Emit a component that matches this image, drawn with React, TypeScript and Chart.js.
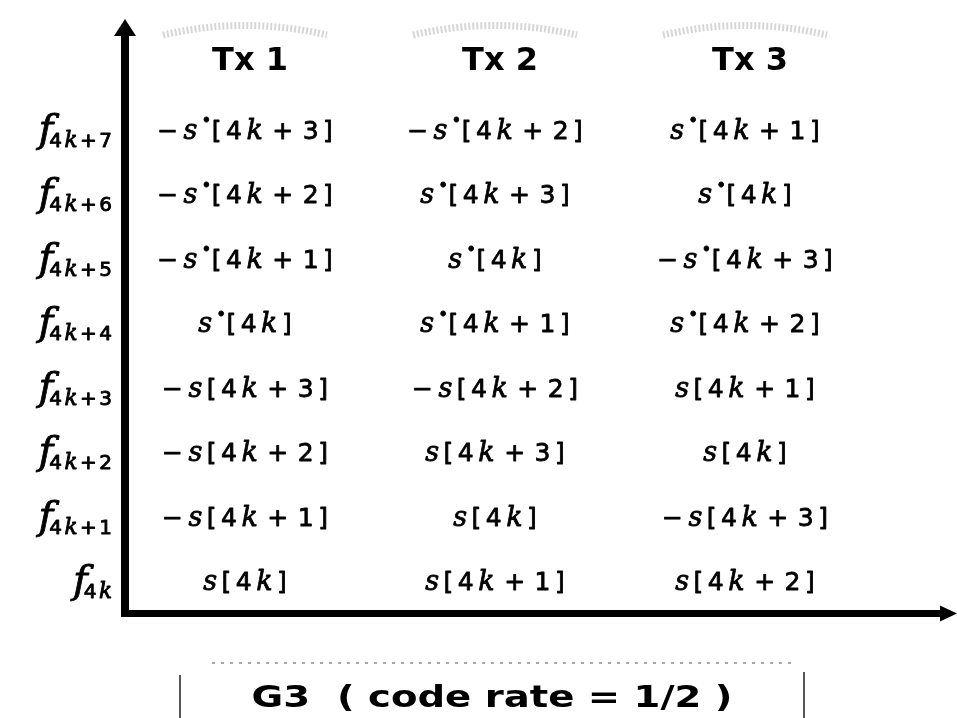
import React, { useEffect, useRef } from "react";
import { Chart, registerables } from "chart.js";

Chart.register(...registerables);

// ---- data ----
const txLabels = ["Tx 1", "Tx 2", "Tx 3"];
// frequency rows, bottom (f_4k) to top (f_4k+7)
const freqSubscripts = ["4k", "4k+1", "4k+2", "4k+3", "4k+4", "4k+5", "4k+6", "4k+7"];
const tx1Cells = ["s[4k]", "-s[4k + 1]", "-s[4k + 2]", "-s[4k + 3]", "s*[4k]", "-s*[4k + 1]", "-s*[4k + 2]", "-s*[4k + 3]"];
const tx2Cells = ["s[4k + 1]", "s[4k]", "s[4k + 3]", "-s[4k + 2]", "s*[4k + 1]", "s*[4k]", "s*[4k + 3]", "-s*[4k + 2]"];
const tx3Cells = ["s[4k + 2]", "-s[4k + 3]", "s[4k]", "s[4k + 1]", "s*[4k + 2]", "-s*[4k + 3]", "s*[4k]", "s*[4k + 1]"];
const cellColumns = [tx1Cells, tx2Cells, tx3Cells];
const captionText = "G3  ( code rate = 1/2 )";

type Run = { ch: string; font: string; dy: number; gap: number };

function mathRuns(s: string, size: number, gap: number): Run[] {
  const roman = `${size}px "DejaVu Sans"`;
  const ital = `italic ${size * 1.08}px "DejaVu Serif"`;
  const runs: Run[] = [];
  for (const ch of s) {
    if (ch === "-") runs.push({ ch: "\u2212", font: roman, dy: 0, gap: gap + 1 });
    else if (ch === "s" || ch === "k") runs.push({ ch, font: ital, dy: 0, gap });
    else if (ch === "*") runs.push({ ch: "\u2022", font: `bold ${size * 0.55}px "DejaVu Sans"`, dy: -size * 0.55, gap: 1 });
    else if (ch === " ") runs.push({ ch: "", font: roman, dy: 0, gap: size * 0.2 });
    else runs.push({ ch, font: roman, dy: 0, gap });
  }
  return runs;
}

function runsWidth(ctx: CanvasRenderingContext2D, runs: Run[]): number {
  let w = 0;
  runs.forEach((r, i) => {
    ctx.font = r.font;
    w += ctx.measureText(r.ch).width + (i < runs.length - 1 ? r.gap : 0);
  });
  return w;
}

function drawRuns(ctx: CanvasRenderingContext2D, runs: Run[], x: number, baseline: number, weight: number) {
  let cx = x;
  ctx.lineWidth = weight;
  ctx.lineJoin = "round";
  runs.forEach((r) => {
    ctx.font = r.font;
    ctx.fillText(r.ch, cx, baseline + r.dy);
    if (weight > 0 && r.ch) ctx.strokeText(r.ch, cx, baseline + r.dy);
    cx += ctx.measureText(r.ch).width + r.gap;
  });
}

const diagramPlugin = {
  id: "diagram",
  afterDatasetsDraw(chart: any) {
    const ctx: CanvasRenderingContext2D = chart.ctx;
    const area = chart.chartArea;
    const xs = chart.scales.x;
    const ys = chart.scales.y;
    ctx.save();
    ctx.fillStyle = "#000";
    ctx.strokeStyle = "#000";
    ctx.textBaseline = "alphabetic";
    ctx.textAlign = "left";

    // cell texts
    chart.data.datasets.forEach((ds: any, di: number) => {
      const meta = chart.getDatasetMeta(di);
      meta.data.forEach((el: any, i: number) => {
        const label = ds.cellText[i];
        const runs = mathRuns(label, 25, 4.5);
        const w = runsWidth(ctx, runs);
        drawRuns(ctx, runs, el.x - w / 2, el.y + 9, 0.8);
      });
    });

    // column headers with faint smudge above
    txLabels.forEach((t, i) => {
      const cx = xs.getPixelForValue(i + 1);
      ctx.save();
      ctx.strokeStyle = "rgba(120,120,120,0.3)";
      ctx.lineWidth = 7;
      ctx.setLineDash([2, 2]);
      ctx.beginPath();
      ctx.moveTo(cx - 82, area.top + 5);
      ctx.quadraticCurveTo(cx, area.top - 14, cx + 82, area.top + 5);
      ctx.stroke();
      ctx.restore();
      ctx.font = `bold 32px "DejaVu Sans"`;
      ctx.textAlign = "center";
      ctx.fillText(t, cx + 5, area.top + 40);
      ctx.textAlign = "left";
    });

    // row labels f_{...}
    freqSubscripts.forEach((sub, r) => {
      const py = ys.getPixelForValue(r);
      const subRuns = mathRuns(sub, 20, 2.5);
      const sw = runsWidth(ctx, subRuns);
      const right = area.left - 16;
      const sx = right - sw;
      drawRuns(ctx, subRuns, sx, py + 17, 0.9);
      ctx.font = `italic 40px "DejaVu Serif"`;
      const fw = ctx.measureText("f").width;
      ctx.lineWidth = 0.8;
      ctx.fillText("f", sx - fw + 4, py + 12);
      ctx.strokeText("f", sx - fw + 4, py + 12);
    });

    // axes with arrows
    const axX = area.left - 3;
    const axY = area.bottom + 1.5;
    ctx.lineWidth = 8;
    ctx.lineCap = "butt";
    ctx.beginPath();
    ctx.moveTo(axX, axY + 3);
    ctx.lineTo(axX, area.top + 6);
    ctx.stroke();
    ctx.beginPath();
    ctx.moveTo(axX, area.top - 11);
    ctx.lineTo(axX - 11, area.top + 6);
    ctx.lineTo(axX + 11, area.top + 6);
    ctx.closePath();
    ctx.fill();

    ctx.lineWidth = 7;
    ctx.beginPath();
    ctx.moveTo(axX - 4, axY);
    ctx.lineTo(area.right - 8, axY);
    ctx.stroke();
    ctx.beginPath();
    ctx.moveTo(area.right + 7, axY);
    ctx.lineTo(area.right - 10, axY - 8);
    ctx.lineTo(area.right - 10, axY + 8);
    ctx.closePath();
    ctx.fill();

    // caption box
    const capY = area.bottom + 84;
    ctx.save();
    ctx.strokeStyle = "rgba(90,90,90,0.7)";
    ctx.lineWidth = 1.5;
    ctx.setLineDash([3, 6]);
    ctx.beginPath();
    ctx.moveTo(212, area.bottom + 51);
    ctx.lineTo(792, area.bottom + 51);
    ctx.stroke();
    ctx.setLineDash([]);
    ctx.strokeStyle = "#222";
    ctx.lineWidth = 1.5;
    ctx.beginPath();
    ctx.moveTo(180, area.bottom + 63);
    ctx.lineTo(180, chart.height);
    ctx.moveTo(804, area.bottom + 60);
    ctx.lineTo(804, chart.height);
    ctx.stroke();
    ctx.restore();

    ctx.font = `bold 31px "DejaVu Sans"`;
    const tw = ctx.measureText(captionText).width;
    const targetW = 481;
    const sc = targetW / tw;
    ctx.save();
    ctx.translate(492, capY + 11);
    ctx.scale(sc, 1);
    ctx.textAlign = "center";
    ctx.fillText(captionText, 0, 0);
    ctx.restore();

    ctx.restore();
  },
};

export default function App() {
  const ref = useRef<HTMLCanvasElement | null>(null);
  useEffect(() => {
    document.body.style.margin = "0";
    const canvas = ref.current;
    if (!canvas) return;
    const datasets = cellColumns.map((cells, ci) => ({
      label: txLabels[ci],
      data: cells.map((_, r) => ({ x: ci + 1, y: r })),
      cellText: cells,
      pointRadius: 0,
      pointHoverRadius: 0,
      showLine: false,
    }));
    const chart = new Chart(canvas, {
      type: "scatter",
      data: { datasets: datasets as any },
      options: {
        responsive: false,
        animation: false,
        events: [],
        layout: { padding: { left: 128, right: 7, top: 30, bottom: 106 } },
        plugins: { legend: { display: false }, tooltip: { enabled: false }, title: { display: false } },
        scales: {
          x: { type: "linear", min: 0.532, max: 3.82, display: false },
          y: { type: "linear", min: -0.478, max: 8.552, display: false },
        },
      },
      plugins: [diagramPlugin],
    });
    return () => chart.destroy();
  }, []);
  return <canvas ref={ref} width={957} height={718} style={{ display: "block", background: "#fff" }} />;
}
